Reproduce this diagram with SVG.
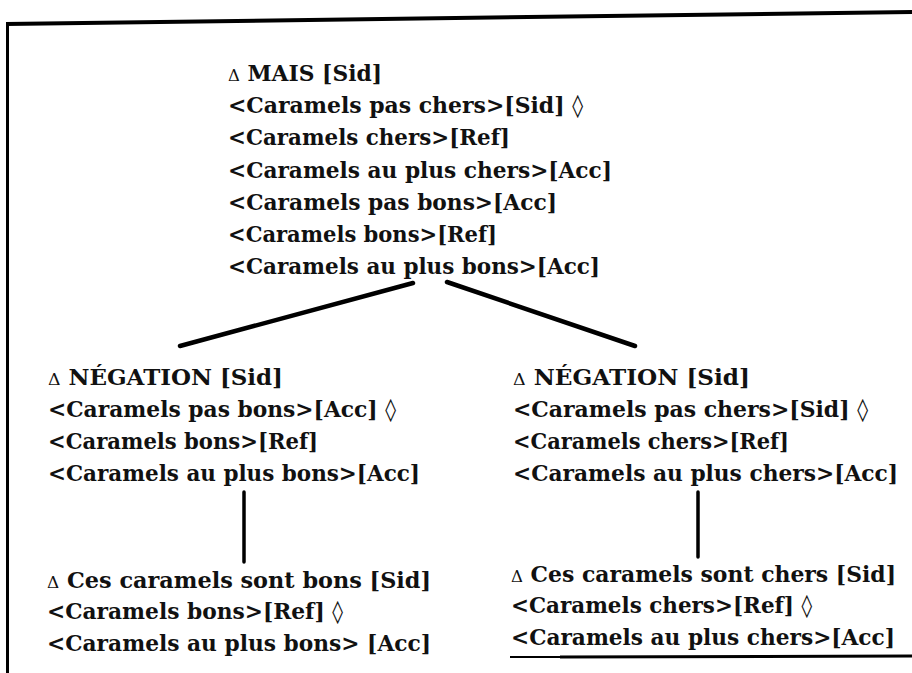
<svg xmlns="http://www.w3.org/2000/svg" width="912" height="673" viewBox="0 0 912 673">
  <style>
    text { font-family: "DejaVu Serif", "Liberation Serif", serif; font-weight: bold; font-size: 22.5px; fill: #111; }
    .tri { font-size: 17px; font-weight: normal; }
    .frame { stroke: #000; fill: none; stroke-linecap: butt; }
    .edge { stroke: #000; fill: none; stroke-linecap: round; }
  </style>
  <rect width="912" height="673" fill="#fff"/>

  <!-- open frame round the tree -->
  <g id="frame">
    <path class="frame" d="M6 24 L912 12" stroke-width="4"/>
    <path class="frame" d="M7.5 23 L7.5 673" stroke-width="3"/>
    <path class="frame" d="M510 657 L560 657" stroke="#999" stroke-width="2"/>
    <path class="frame" d="M560 657 L912 656" stroke-width="3"/>
  </g>

  <!-- tree branches -->
  <g id="connectors">
    <path class="edge" d="M413 283 L180 346" stroke-width="4.5"/>
    <path class="edge" d="M447 282 L635 346" stroke-width="4.5"/>
    <path class="edge" d="M244 492 L244 562" stroke-width="3.5"/>
    <path class="edge" d="M698 492 L698 557" stroke-width="3.5"/>
  </g>

  <g id="node-mais">
    <text x="228" y="81" textLength="154" lengthAdjust="spacingAndGlyphs"><tspan class="tri">Δ</tspan> MAIS [Sid]</text>
    <text x="228" y="113" textLength="355" lengthAdjust="spacingAndGlyphs">&lt;Caramels pas chers&gt;[Sid] ◊</text>
    <text x="228" y="145" textLength="282" lengthAdjust="spacingAndGlyphs">&lt;Caramels chers&gt;[Ref]</text>
    <text x="228" y="178" textLength="384" lengthAdjust="spacingAndGlyphs">&lt;Caramels au plus chers&gt;[Acc]</text>
    <text x="228" y="210" textLength="329" lengthAdjust="spacingAndGlyphs">&lt;Caramels pas bons&gt;[Acc]</text>
    <text x="228" y="242" textLength="269" lengthAdjust="spacingAndGlyphs">&lt;Caramels bons&gt;[Ref]</text>
    <text x="228" y="274" textLength="372" lengthAdjust="spacingAndGlyphs">&lt;Caramels au plus bons&gt;[Acc]</text>
  </g>

  <g id="node-negation-bons">
    <text x="48" y="385" textLength="235" lengthAdjust="spacingAndGlyphs"><tspan class="tri">Δ</tspan> NÉGATION [Sid]</text>
    <text x="48" y="417" textLength="348" lengthAdjust="spacingAndGlyphs">&lt;Caramels pas bons&gt;[Acc] ◊</text>
    <text x="48" y="449" textLength="270" lengthAdjust="spacingAndGlyphs">&lt;Caramels bons&gt;[Ref]</text>
    <text x="48" y="481" textLength="372" lengthAdjust="spacingAndGlyphs">&lt;Caramels au plus bons&gt;[Acc]</text>
  </g>

  <g id="node-negation-chers">
    <text x="513" y="385" textLength="237" lengthAdjust="spacingAndGlyphs"><tspan class="tri">Δ</tspan> NÉGATION [Sid]</text>
    <text x="513" y="417" textLength="355" lengthAdjust="spacingAndGlyphs">&lt;Caramels pas chers&gt;[Sid] ◊</text>
    <text x="513" y="449" textLength="276" lengthAdjust="spacingAndGlyphs">&lt;Caramels chers&gt;[Ref]</text>
    <text x="513" y="481" textLength="385" lengthAdjust="spacingAndGlyphs">&lt;Caramels au plus chers&gt;[Acc]</text>
  </g>

  <g id="node-bons">
    <text x="47" y="588" textLength="384" lengthAdjust="spacingAndGlyphs"><tspan class="tri">Δ</tspan> Ces caramels sont bons [Sid]</text>
    <text x="47" y="619" textLength="296" lengthAdjust="spacingAndGlyphs">&lt;Caramels bons&gt;[Ref] ◊</text>
    <text x="47" y="651" textLength="384" lengthAdjust="spacingAndGlyphs">&lt;Caramels au plus bons&gt; [Acc]</text>
  </g>

  <g id="node-chers">
    <text x="511" y="582" textLength="385" lengthAdjust="spacingAndGlyphs"><tspan class="tri">Δ</tspan> Ces caramels sont chers [Sid]</text>
    <text x="511" y="613" textLength="301" lengthAdjust="spacingAndGlyphs">&lt;Caramels chers&gt;[Ref] ◊</text>
    <text x="511" y="645" textLength="384" lengthAdjust="spacingAndGlyphs">&lt;Caramels au plus chers&gt;[Acc]</text>
  </g>
</svg>
